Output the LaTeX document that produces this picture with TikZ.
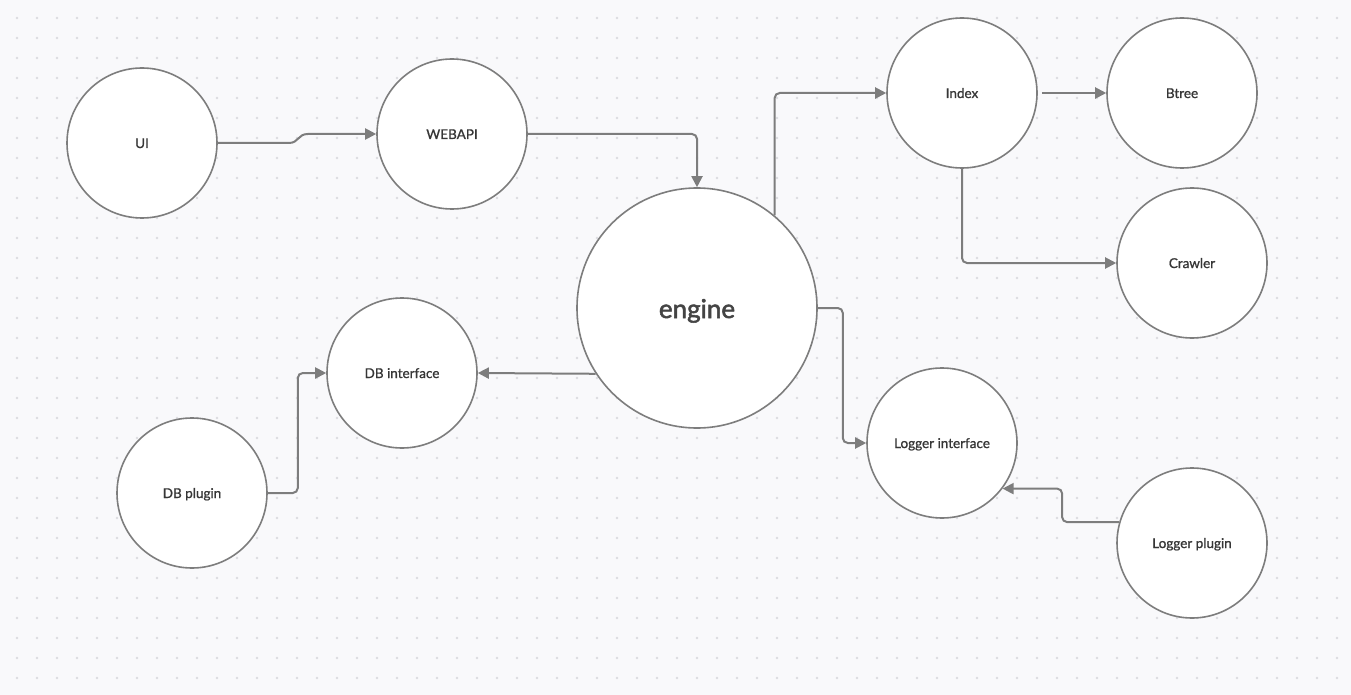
\documentclass[tikz,border=0pt]{standalone}
\usepackage{fontspec}
\setmainfont{Lato}
\newfontfamily\lblfont{Lato}[FakeBold=1.0]
\newfontfamily\bigfont{Lato}[FakeBold=2.0]
\usetikzlibrary{arrows.meta}
\definecolor{bgc}{HTML}{F9F9FB}
\definecolor{dotc}{HTML}{DCDCE0}
\definecolor{linec}{HTML}{7D7D7D}
\definecolor{txtc}{HTML}{363636}
\definecolor{bigtxtc}{HTML}{444444}
\tikzset{
  circnode/.style={circle, draw=linec, line width=1.6pt, fill=white, minimum size=150pt, inner sep=0pt, text=txtc, font=\lblfont\fontsize{13.5}{15}\selectfont, text height=10pt, text depth=0pt},
  bignode/.style={circnode, minimum size=240pt, text=bigtxtc, font=\bigfont\fontsize{26}{30}\selectfont, text height=20pt, text depth=0pt},
  arr/.style={draw=linec, line width=2pt, rounded corners=5pt, -{Triangle[length=11pt,width=11pt]}},
}
\begin{document}
\begin{tikzpicture}[x=1pt,y=-1pt]
\fill[bgc] (0,0) rectangle (1351,695);
\useasboundingbox (0,0) rectangle (1351,695);
\foreach \i in {0,...,66} {
  \foreach \j in {0,...,33} {
    \fill[dotc] (17+20*\i,18+20*\j) circle (1.3pt);
  }
}
\node[circnode] (UI) at (142,143) {UI};
\node[circnode] (WEBAPI) at (452,134) {WEBAPI};
\node[bignode] (engine) at (697,308) {engine};
\node[circnode] (Index) at (962,93) {Index};
\node[circnode] (Btree) at (1182,93) {Btree};
\node[circnode] (Crawler) at (1192,263) {Crawler};
\node[circnode] (DBi) at (402,373) {DB interface};
\node[circnode] (DBp) at (192,493) {DB plugin};
\node[circnode] (Li) at (942,443) {Logger interface};
\node[circnode] (Lp) at (1192,543) {Logger plugin};

\draw[arr, rounded corners=0pt] (UI.east) -- ++(71,0) .. controls +(10,0) and +(-10,0) .. ++(19,-9) -- (WEBAPI.west);
\draw[arr] (WEBAPI.east) -| (engine.north);
\draw[arr] (engine.50) |- (Index.west);
\draw[arr] ([xshift=4pt]Index.east) -- (Btree.west);
\draw[arr] (Index.south) |- (Crawler.west);
\draw[arr] (engine.213) -- (DBi.east);
\draw[arr] (engine.east) -- ++(25,0) |- (Li.west);
\draw[arr] (DBp.east) -- ++(30,0) |- (DBi.west);
\draw[arr] (Lp.164) -- ++(-57,0) |- (Li.-37);
\end{tikzpicture}
\end{document}
